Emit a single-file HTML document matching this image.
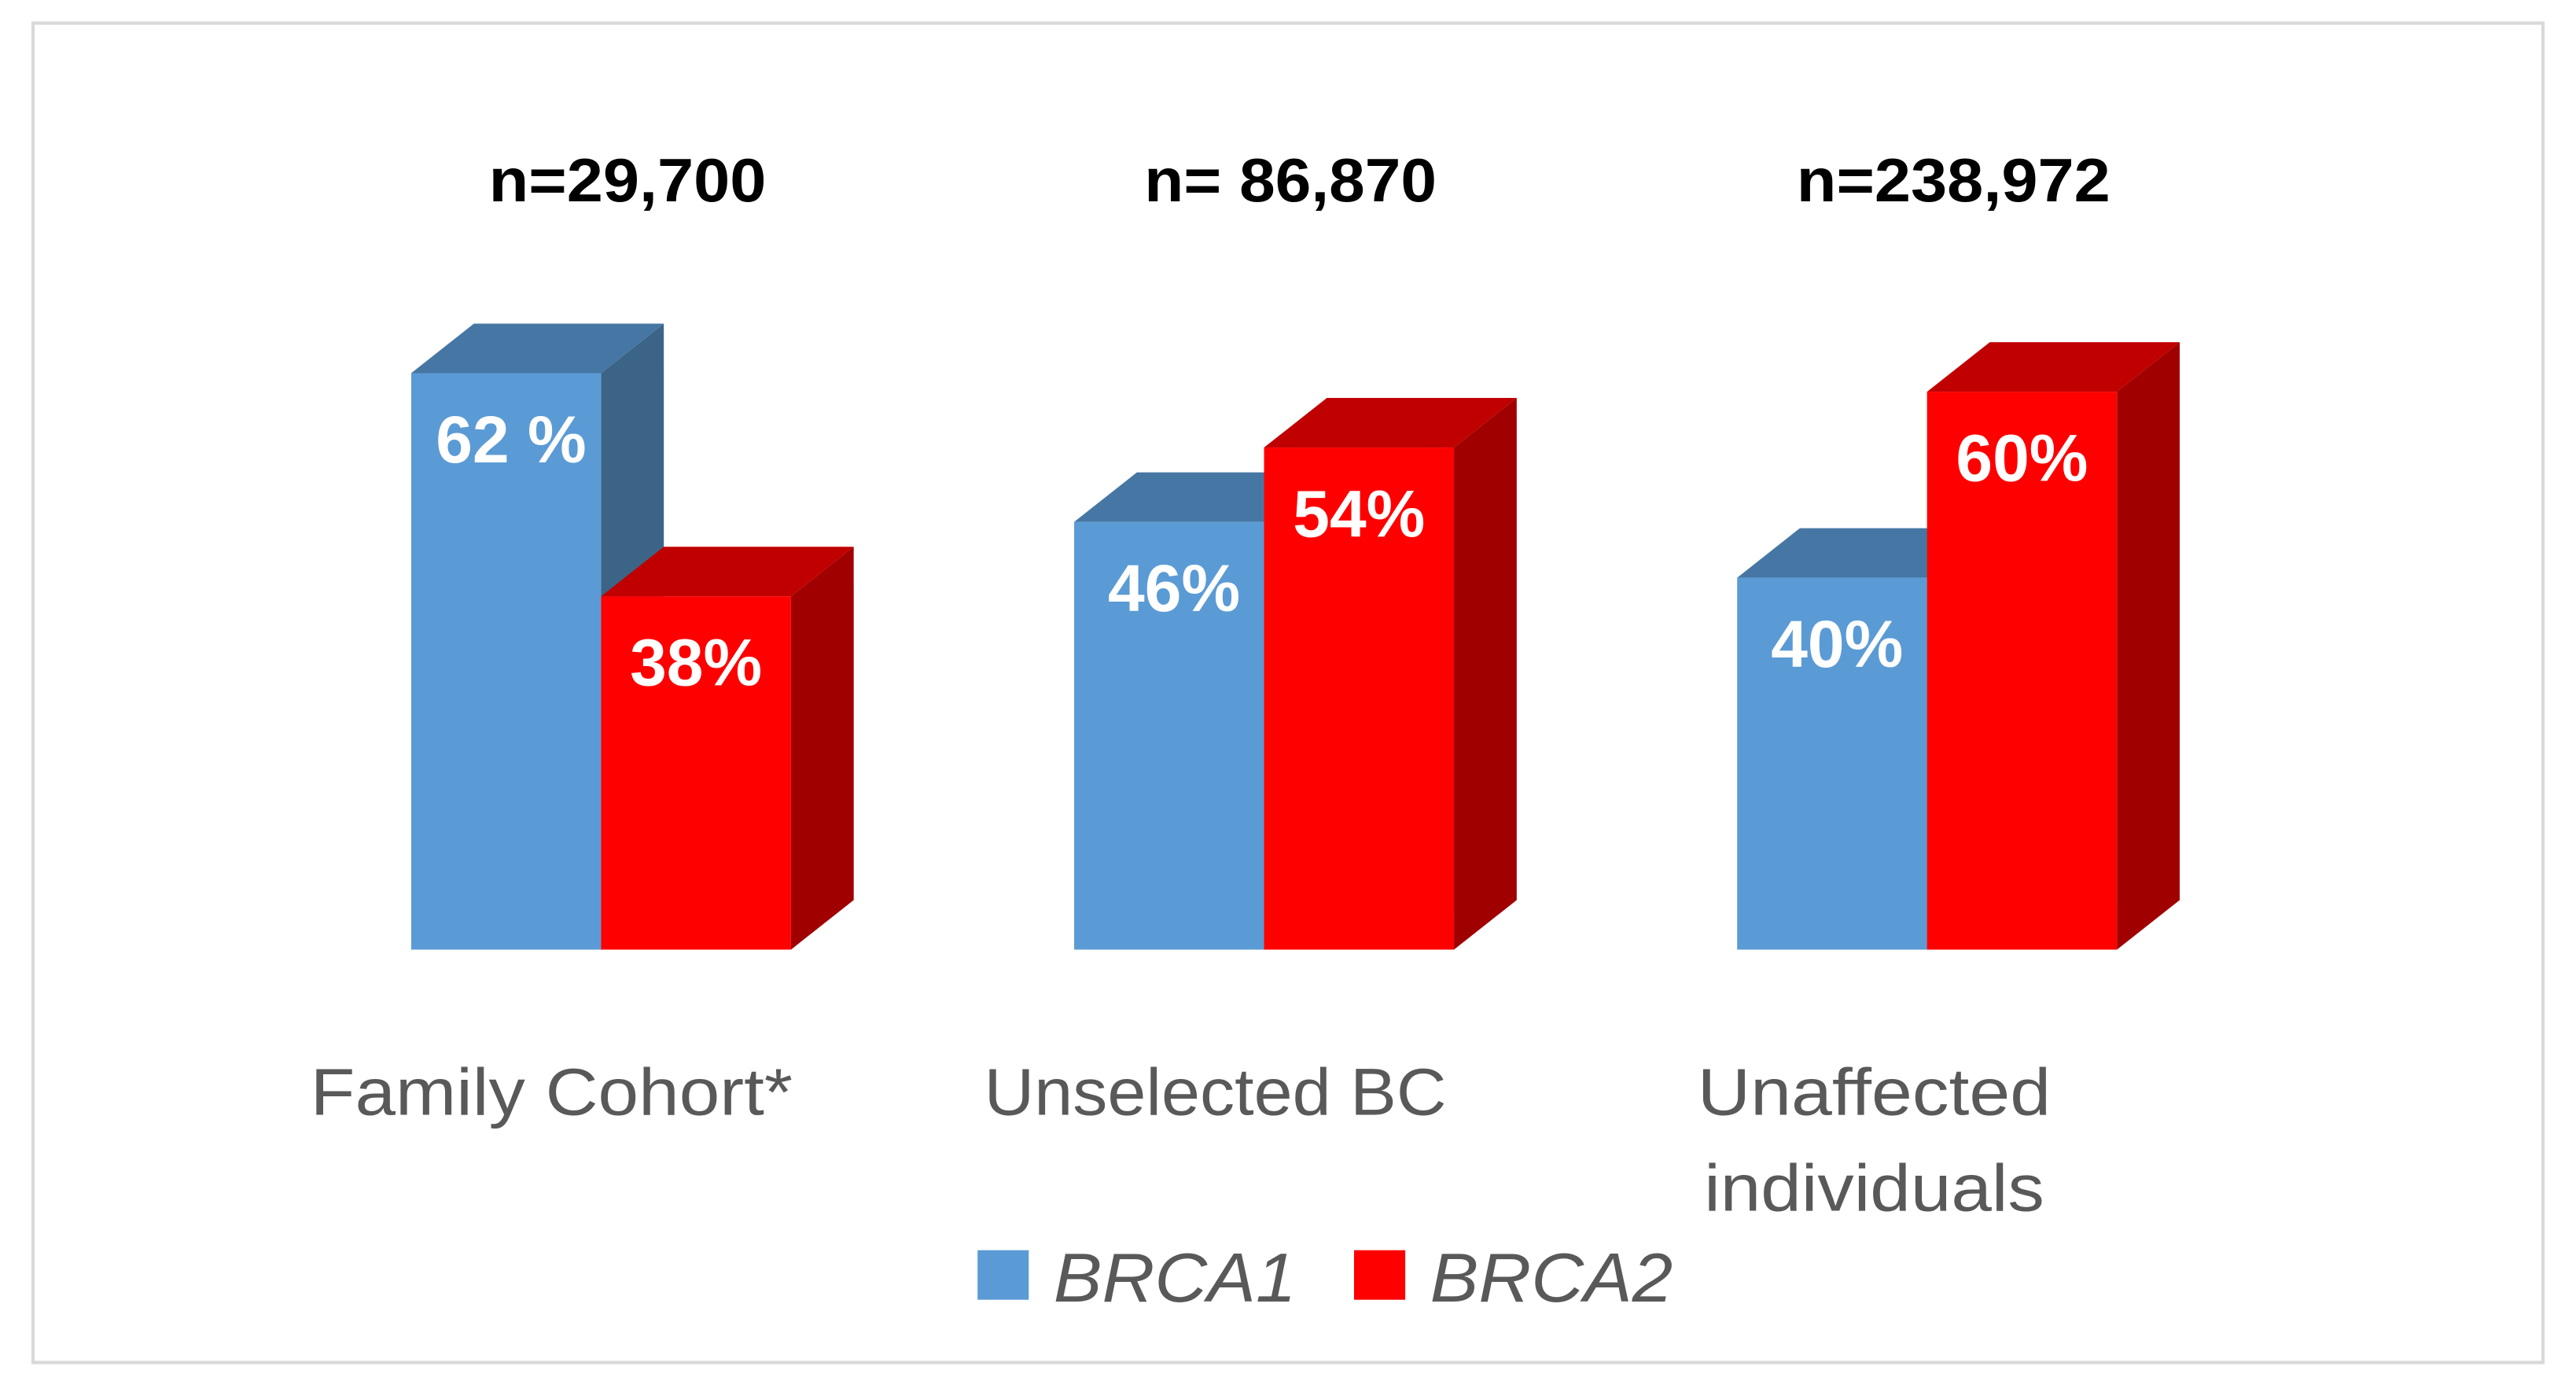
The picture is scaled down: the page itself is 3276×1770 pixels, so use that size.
<!DOCTYPE html>
<html><head><meta charset="utf-8"><style>
html,body{margin:0;padding:0;background:#fff}
svg{display:block}
text{font-family:"Liberation Sans",sans-serif}
</style></head><body>
<svg id="chart" width="3276" height="1770" viewBox="0 0 1560 842.86" xmlns="http://www.w3.org/2000/svg">
<rect x="20" y="14" width="1520" height="811" fill="#fff" stroke="#d9d9d9" stroke-width="2"/>
<g id="bars"></g>
<g id="labels"></g>
<g>
<rect x="592" y="757" width="31" height="30" fill="#5b9bd5"/>
<text x="638" y="788" font-size="42" font-style="italic" fill="#595959" textLength="147" lengthAdjust="spacingAndGlyphs">BRCA1</text>
<rect x="820" y="757" width="31" height="30" fill="#ff0000"/>
<text x="866" y="788" font-size="42" font-style="italic" fill="#595959" textLength="147" lengthAdjust="spacingAndGlyphs">BRCA2</text>
</g>
</svg>
<script>
const categories = ["Family Cohort*", "Unselected BC", "Unaffected individuals"];
const sampleSizes = ["n=29,700", "n= 86,870", "n=238,972"];
const brca1 = [62, 46, 40];
const brca2 = [38, 54, 60];
const brca1Labels = ["62 %", "46%", "40%"];
const brca2Labels = ["38%", "54%", "60%"];

const NS = "http://www.w3.org/2000/svg";
const baseY = 575, pxPerPct = 5.63, barW = 115, dx = 38, dy = 30;
const groupX0 = 249, groupStep = 401.5;
function yScale(v){ return baseY - v * pxPerPct; }
function xGroup(i){ return groupX0 + i * groupStep; }
const bars = document.getElementById('bars');
const labels = document.getElementById('labels');

function mk(tag, attrs, parent){
  const e = document.createElementNS(NS, tag);
  for (const k in attrs) e.setAttribute(k, attrs[k]);
  parent.appendChild(e);
  return e;
}
function bar3d(x, v, front, top, side, name){
  const g = mk('g', {}, bars);
  
  
  const y = yScale(v);
  mk('polygon', {points: `${x+barW},${y} ${x+barW+dx},${y-dy} ${x+barW+dx},${baseY-dy} ${x+barW},${baseY}`, fill: side}, g);
  mk('polygon', {points: `${x},${y} ${x+dx},${y-dy} ${x+barW+dx},${y-dy} ${x+barW},${y}`, fill: top}, g);
  mk('rect', {x: x, y: y, width: barW, height: baseY - y, fill: front}, g);
}
function txt(s, x, y, attrs, name){
  const t = mk('text', Object.assign({x: x, y: y}, attrs), labels);
  t.textContent = s;
  
  
  return t;
}
const nWidths = [168, 177, 190];
categories.forEach((c, i) => {
  const x = xGroup(i);
  bar3d(x, brca1[i], '#5b9bd5', '#4677a4', '#3b6487', 'bar-brca1-' + i);
  bar3d(x + barW, brca2[i], '#ff0000', '#c00000', '#a00000', 'bar-brca2-' + i);
  txt(brca1Labels[i], x + barW/2 + 3, yScale(brca1[i]) + 54, {'font-size': 40, 'font-weight': 'bold', fill: '#fff', 'text-anchor': 'middle'}, 'value-label-brca1');
  txt(brca2Labels[i], x + barW*1.5, yScale(brca2[i]) + 54, {'font-size': 40, 'font-weight': 'bold', fill: '#fff', 'text-anchor': 'middle'}, 'value-label-brca2');
  txt(sampleSizes[i], x + barW + 16, 122, {'font-size': 37, 'font-weight': 'bold', fill: '#000', 'text-anchor': 'middle', textLength: nWidths[i], lengthAdjust: 'spacingAndGlyphs'}, 'sample-size-label');
});
const catPos = [[188, 675], [596, 675], [1028, 675]];
categories.forEach((c, i) => {
  if (c === "Unaffected individuals") {
    txt("Unaffected", 1028, 675, {'font-size': 40, fill: '#595959', textLength: 214, lengthAdjust: 'spacingAndGlyphs'}, 'category-label');
    txt("individuals", 1032, 733, {'font-size': 40, fill: '#595959', textLength: 206, lengthAdjust: 'spacingAndGlyphs'}, 'category-label');
  } else {
    const w = i === 0 ? 292 : 280;
    txt(c, catPos[i][0], catPos[i][1], {'font-size': 40, fill: '#595959', textLength: w, lengthAdjust: 'spacingAndGlyphs'}, 'category-label');
  }
});
</script>
</body></html>
